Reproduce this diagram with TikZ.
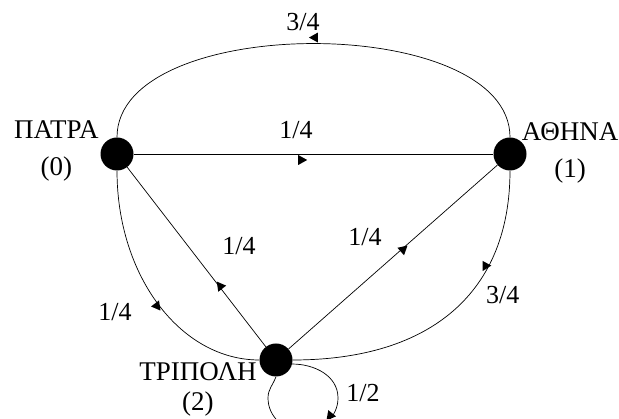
\documentclass[tikz,border=0pt]{standalone}
\usepackage{fontspec}
\setmainfont{Liberation Serif}
\usetikzlibrary{positioning,decorations.markings}

\tikzset{
 city/.style={circle,fill=black,minimum size=33pt,inner sep=0pt},
 place/.style={font=\fontsize{27}{37}\selectfont,align=center,inner sep=0pt},
 wt/.style={font=\fontsize{26}{30}\selectfont,inner sep=0pt},
 flow/.style={line width=0.7pt},
 tip at/.style 2 args={postaction={decorate},decoration={markings,
   mark=at position #1 with {\fill (4.5pt,#2) -- (-4.5pt,#2+5pt) -- (-4.5pt,#2-5pt) -- cycle;}}}
}

\begin{document}
\begin{tikzpicture}[x=1pt,y=1pt]
\useasboundingbox (0,0) rectangle (619,419);
% the three towns
\node[city] (pat) at (117,265) {};
\node[city] (ath) at (510,265) {};
\node[city] (tri) at (276,59) {};
\node[place,left=1.5pt of pat,yshift=3pt] (patname) {ΠΑΤΡΑ\\(0)};
\node[place,right=-5pt of ath,yshift=1pt] (athname) {ΑΘΗΝΑ\\(1)};
\node[place,font=\fontsize{27}{30}\selectfont,left=2.5pt of tri,yshift=-29pt] (triname) {ΤΡΙΠΟΛΗ\\(2)};
% way points of the loop at Tripoli
\coordinate (lpR) at (338,21);
\coordinate (lpB) at (303,-12);
\coordinate (lpL) at (268,21);
% transitions
\draw[flow,tip at={0.47}{-6pt}] (pat) -- node[wt,pos=0.5,xshift=-17.5pt,yshift=24pt] (w01) {1/4} (ath);
\draw[flow,tip at={0.5}{-6pt}] (ath.north) .. controls +(0,125) and +(0,125) .. node[wt,pos=0.5,xshift=-10.5pt,yshift=21.5pt] (w10) {3/4} (pat.north);
\draw[flow,tip at={0.55}{-2pt}] (pat.south) .. controls +(0,-105) and +(-79,0) .. node[wt,pos=0.5,xshift=-43.5pt,yshift=-7.5pt] (w02) {1/4} (tri.west);
\draw[flow,tip at={0.34}{-1pt}] (tri) -- node[wt,pos=0.5,xshift=42.5pt,yshift=11pt] (w20) {1/4} (pat);
\draw[flow,tip at={0.55}{-1pt}] (tri) -- node[wt,pos=0.5,xshift=-28pt,yshift=20pt] (w21) {1/4} (ath);
\draw[flow,tip at={0.31}{-3pt}] (ath.south) .. controls +(0,-120) and +(140,0) .. node[wt,pos=0.4,xshift=29pt,yshift=-6pt] (w12) {3/4} (tri.east);
\draw[flow,tip at={0.44}{-2pt}] (tri.-14) to[out=0,in=90] node[wt,pos=1,xshift=25pt,yshift=5pt] (w22) {1/2} (lpR)
  to[out=-90,in=0] (lpB) to[out=180,in=-90] (lpL) to[out=90,in=-110] (tri.south);
\end{tikzpicture}
\end{document}
